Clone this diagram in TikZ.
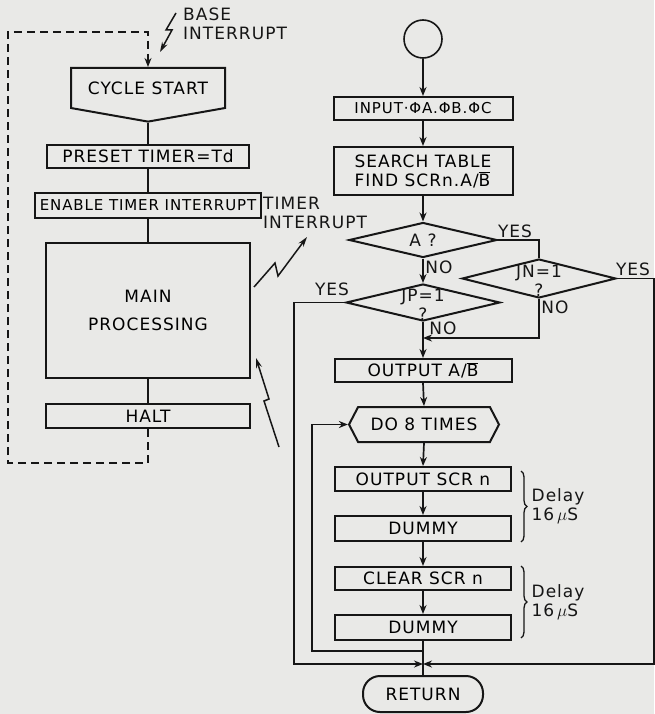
\documentclass[tikz,border=0pt]{standalone}
\usepackage{fontspec}
\setmainfont[LetterSpace=6]{DejaVu Sans}
\usetikzlibrary{
  arrows.meta,
  shapes.geometric,
  shapes.symbols,
  positioning,
  decorations.pathreplacing
}
\definecolor{fcInk}{HTML}{161616}
\definecolor{fcPaper}{HTML}{E9E9E7}
\newcommand{\fcfont}{\fontsize{17}{19}\selectfont}
\newcommand{\fcsmall}{\fontsize{15}{18}\selectfont}
\tikzset{
  fcnode/.style={
    draw=fcInk, line width=2pt, font=\fcfont, align=center, inner sep=2pt, fill=fcPaper
  },
  fcbox/.style={fcnode, rectangle},
  fcstart/.style={fcnode, circle, minimum size=38pt, line width=1.6pt},
  fccycle/.style={fcnode, signal, signal to=south, signal pointer angle=160,
    minimum width=154pt, minimum height=51pt},
  fcloop/.style={fcnode, signal, signal to=east and west, signal pointer angle=125,
    minimum width=150pt, minimum height=35pt},
  fcdecision/.style={fcnode, diamond, inner sep=0pt},
  fcterm/.style={fcnode, rounded corners=17pt, minimum width=120pt, minimum height=36pt},
  fctext/.style={font=\fcfont, align=center, inner sep=0pt, text=fcInk},
  fcline/.style={line width=1.7pt, draw=fcInk},
  fcflow/.style={fcline, -{Stealth[length=9pt, width=7pt]}},
  fcdashed/.style={fcline, dash pattern=on 8pt off 5pt},
  fcbolt/.style={line width=1.5pt, draw=fcInk, -{Stealth[length=10pt, width=6pt]}},
  fcbrace/.style={line width=1.3pt, draw=fcInk, decorate, decoration={brace, amplitude=6pt}}
}

\begin{document}
\begin{tikzpicture}[x=1pt, y=-1pt]
  \fill[fcPaper] (0,0) rectangle (654,714);
  \useasboundingbox (0,0) rectangle (654,714);

  \node[fccycle] (cycle) at (148,88) {CYCLE START};
  \node[fcbox, minimum width=202pt, minimum height=23pt] (preset) at (148,156.5) {PRESET TIMER=Td};
  \node[fcbox, minimum width=226pt, minimum height=25pt, font=\fcsmall] (enable) at (148,205.5) {ENABLE TIMER INTERRUPT};
  \node[fcbox, minimum width=204pt, minimum height=135pt] (mainproc) at (148,310.5) {MAIN\\[9pt]PROCESSING};
  \node[fcbox, minimum width=204pt, minimum height=24pt] (halt) at (148,416) {HALT};

  \draw[fcline] (cycle.south) -- (preset.north);
  \draw[fcline] (preset.south) -- (enable.north);
  \draw[fcline] (enable.south) -- (mainproc.north);
  \draw[fcline] (mainproc.south) -- (halt.north);
  \draw[fcdashed, -{Stealth[length=9pt, width=7pt]}] (halt.south) -- ++(0,34) -| (8,32) -| (cycle.north);

  \node[fctext, align=left, anchor=west] (baselbl) at (183,24) {BASE\\INTERRUPT};
  \node[fctext, align=left, anchor=west] (timerlbl) at (263,213) {TIMER\\INTERRUPT};
  \draw[fcbolt] (176,13) -- (166,30) -- (172,30) -- (160,52);
  \draw[fcbolt] (254,287) -- (275,263) -- (278,276) -- (307,237);
  \draw[fcbolt] (279,447) -- (264,401) -- (269,399) -- (256,358);

  \node[fcstart] (start) at (423,39) {};
  \node[fcbox, minimum width=179pt, minimum height=23pt, font=\fcsmall] (input) at (423,108.5) {INPUT·ΦA.ΦB.ΦC};
  \node[fcbox, minimum width=179pt, minimum height=48pt, align=left] (search) at (423,171) {SEARCH TABLE\\FIND SCRn.A/$\overline{\mbox{B}}$};
  \node[fcdecision, minimum width=148pt, minimum height=35pt, label={[fctext]center:A ?}] (adec) at (423,240) {};
  \node[fcdecision, minimum width=154pt, minimum height=39pt, label={[fctext, yshift=-2pt]center:{JN=1\\?}}] (jndec) at (539,278.5) {};
  \node[fcdecision, minimum width=154pt, minimum height=37pt, label={[fctext, yshift=-2pt]center:{JP=1\\?}}] (jpdec) at (423,302.5) {};
  \node[fcbox, minimum width=177pt, minimum height=23pt] (outab) at (423,370.5) {OUTPUT A/$\overline{\mbox{B}}$};
  \node[fcloop] (dotimes) at (424,424.5) {DO 8 TIMES};
  \node[fcbox, minimum width=176pt, minimum height=24pt] (outscr) at (423,479) {OUTPUT SCR n};
  \node[fcbox, minimum width=176pt, minimum height=25pt] (dummya) at (423,528.5) {DUMMY};
  \node[fcbox, minimum width=176pt, minimum height=23pt] (clrscr) at (423,578.5) {CLEAR SCR n};
  \node[fcbox, minimum width=176pt, minimum height=25pt] (dummyb) at (423,627.5) {DUMMY};
  \node[fcterm] (ret) at (423,694) {RETURN};

  \coordinate (nojoin) at (423,338);
  \coordinate (loopjoin) at (423,651);
  \coordinate (retjoin) at (423,664);

  \draw[fcflow] (start.south) -- (input.north);
  \draw[fcflow] (input.south) -- (search.north);
  \draw[fcflow] (search.south) -- (adec.north);
  \draw[fcflow] (adec.south) -- (jpdec.north);
  \draw[fcline] (adec.east) -| (jndec.north);
  \draw[fcflow] (jndec.south) |- (nojoin);
  \draw[fcflow] (jpdec.south) -- (outab.north);
  \draw[fcflow] (outab.south) -- (dotimes.north);
  \draw[fcflow] (dotimes.south) -- (outscr.north);
  \draw[fcflow] (outscr.south) -- (dummya.north);
  \draw[fcflow] (dummya.south) -- (clrscr.north);
  \draw[fcflow] (clrscr.south) -- (dummyb.north);
  \draw[fcline] (dummyb.south) -- (ret.north);
  \draw[fcflow] (loopjoin) -| ([xshift=-36pt]dotimes.west) -- (dotimes.west);
  \draw[fcflow] (jpdec.west) -- ++(-51,0) |- (retjoin);
  \draw[fcflow] (jndec.east) -- ++(37,0) |- (retjoin);

  \node[fctext] at (515,231) {YES};
  \node[fctext] at (439,267) {NO};
  \node[fctext] at (633,269) {YES};
  \node[fctext] at (555,307) {NO};
  \node[fctext] at (332,289) {YES};
  \node[fctext] at (443,328) {NO};

  \draw[fcbrace] ([xshift=9pt, yshift=-5pt]outscr.north east) -- ([xshift=9pt]dummya.south east)
    node[midway, right=10pt, fctext, align=left] {Delay\\16\,$\mu$S};
  \draw[fcbrace] ([xshift=9pt]clrscr.north east) -- ([xshift=9pt, yshift=3pt]dummyb.south east)
    node[midway, right=10pt, fctext, align=left] {Delay\\16\,$\mu$S};
\end{tikzpicture}
\end{document}
